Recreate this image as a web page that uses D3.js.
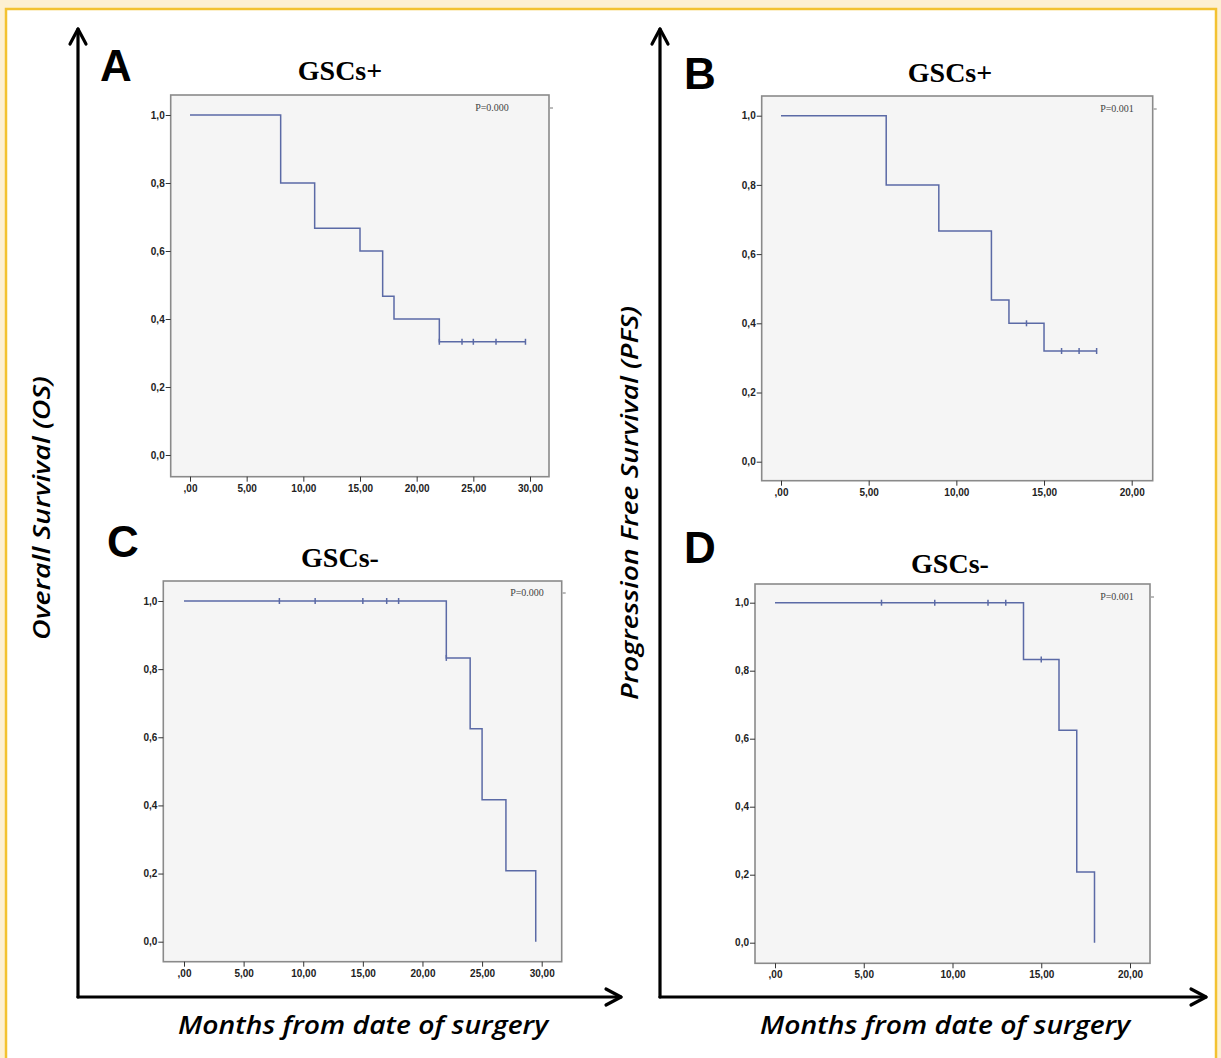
<!DOCTYPE html>
<html>
<head>
<meta charset="utf-8">
<script src="https://cdn.jsdelivr.net/npm/d3@7"></script>
<style>
  html, body { margin: 0; padding: 0; background: #fdf0d2; }
  svg { display: block; }
</style>
</head>
<body>
<svg id="chart" width="1221" height="1058"></svg>
<script>
// ---------------- DATA ----------------
// Panel A: Overall survival, GSCs+
const osPosTimes    = [0, 8, 11, 15, 17, 18, 22, 29.6];
const osPosSurv     = [1.0, 0.8, 0.667, 0.6, 0.467, 0.4, 0.333, 0.333];
const osPosCensT    = [22, 24, 25, 27, 29.6];
const osPosCensS    = [0.333, 0.333, 0.333, 0.333, 0.333];

// Panel B: Progression free survival, GSCs+
const pfsPosTimes   = [0, 6, 9, 12, 13, 15, 18];
const pfsPosSurv    = [1.0, 0.8, 0.667, 0.467, 0.4, 0.32, 0.32];
const pfsPosCensT   = [14, 16, 17, 18];
const pfsPosCensS   = [0.4, 0.32, 0.32, 0.32];

// Panel C: Overall survival, GSCs-
const osNegTimes    = [0, 22, 24, 25, 27, 29.5];
const osNegSurv     = [1.0, 0.833, 0.625, 0.417, 0.208, 0.0];
const osNegCensT    = [8, 11, 15, 17, 18, 22];
const osNegCensS    = [1.0, 1.0, 1.0, 1.0, 1.0, 0.833];

// Panel D: Progression free survival, GSCs-
const pfsNegTimes   = [0, 14, 16, 17, 18];
const pfsNegSurv    = [1.0, 0.833, 0.625, 0.208, 0.0];
const pfsNegCensT   = [6, 9, 12, 13, 15];
const pfsNegCensS   = [1.0, 1.0, 1.0, 1.0, 0.833];

// Tick labels
const yTickValues   = [0, 0.2, 0.4, 0.6, 0.8, 1.0];
const yTickLabels   = ["0,0", "0,2", "0,4", "0,6", "0,8", "1,0"];
const xTickValuesOS = [0, 5, 10, 15, 20, 25, 30];
const xTickLabelsOS = [",00", "5,00", "10,00", "15,00", "20,00", "25,00", "30,00"];
const xTickValuesPFS = [0, 5, 10, 15, 20];
const xTickLabelsPFS = [",00", "5,00", "10,00", "15,00", "20,00"];

const panelLetters  = ["A", "B", "C", "D"];
const panelTitles   = ["GSCs+", "GSCs+", "GSCs-", "GSCs-"];
const pValues       = ["P=0.000", "P=0.001", "P=0.000", "P=0.001"];
const yAxisTitles   = ["Overall Survival (OS)", "Progression Free Survival (PFS)"];
const xAxisTitle    = "Months from date of surgery";

// ---------------- LAYOUT ----------------
const svg = d3.select("#chart");
const lineColor = "#5b6aa6";

// outer frame
svg.append("rect").attr("x", 0).attr("y", 0).attr("width", 1221).attr("height", 1058).attr("fill", "#fdf0d2");
svg.append("rect").attr("x", 6).attr("y", 9).attr("width", 1210).attr("height", 1070)
  .attr("fill", "#ffffff").attr("stroke", "#f3c231").attr("stroke-width", 2.5);

const panels = [
  { times: osPosTimes, surv: osPosSurv, censT: osPosCensT, censS: osPosCensS,
    xMax: 30, xt: xTickValuesOS, xl: xTickLabelsOS,
    frame: [170.7, 95, 549, 476.7], xr: [190, 530], yr: [455, 115],
    letter: [100, 81], title: [340, 80], p: [492, 111] },
  { times: pfsPosTimes, surv: pfsPosSurv, censT: pfsPosCensT, censS: pfsPosCensS,
    xMax: 20, xt: xTickValuesPFS, xl: xTickLabelsPFS,
    frame: [761.7, 96, 1152.7, 480.7], xr: [781, 1131.7], yr: [461.7, 115.7],
    letter: [684, 89], title: [950, 82], p: [1117, 112] },
  { times: osNegTimes, surv: osNegSurv, censT: osNegCensT, censS: osNegCensS,
    xMax: 30, xt: xTickValuesOS, xl: xTickLabelsOS,
    frame: [163.3, 581, 561.7, 961.7], xr: [184, 541.7], yr: [941.7, 601],
    letter: [107, 557], title: [340, 567], p: [527, 596] },
  { times: pfsNegTimes, surv: pfsNegSurv, censT: pfsNegCensT, censS: pfsNegCensS,
    xMax: 20, xt: xTickValuesPFS, xl: xTickLabelsPFS,
    frame: [755, 584, 1150, 963.3], xr: [775, 1130], yr: [942.7, 602.7],
    letter: [684, 563], title: [950, 573], p: [1117, 600] }
];

panels.forEach((p, i) => {
  const g = svg.append("g");
  const [fx0, fy0, fx1, fy1] = p.frame;
  const x = d3.scaleLinear().domain([0, p.xMax]).range(p.xr);
  const y = d3.scaleLinear().domain([0, 1]).range(p.yr);

  // plot frame
  g.append("rect").attr("x", fx0).attr("y", fy0).attr("width", fx1 - fx0).attr("height", fy1 - fy0)
    .attr("fill", "#f5f5f5").attr("stroke", "#8a8a8a").attr("stroke-width", 1.6);

  // y axis
  const yAxis = d3.axisLeft(y).tickValues(yTickValues).tickSize(5).tickPadding(1)
    .tickFormat((d, k) => yTickLabels[k]);
  const ya = g.append("g").attr("transform", `translate(${fx0},0)`).call(yAxis);
  ya.select(".domain").remove();
  ya.selectAll("line").attr("stroke", "#333").attr("stroke-width", 1);
  ya.selectAll("text").attr("font-family", "Liberation Sans, Arial, sans-serif")
    .attr("font-size", 10).attr("font-weight", "bold").attr("fill", "#222");

  // x axis
  const xAxis = d3.axisBottom(x).tickValues(p.xt).tickSize(5).tickPadding(3)
    .tickFormat((d, k) => p.xl[k]);
  const xa = g.append("g").attr("transform", `translate(0,${fy1})`).call(xAxis);
  xa.select(".domain").remove();
  xa.selectAll("line").attr("stroke", "#333").attr("stroke-width", 1);
  xa.selectAll("text").attr("font-family", "Liberation Sans, Arial, sans-serif")
    .attr("font-size", 10).attr("font-weight", "bold").attr("fill", "#222");

  // survival step curve
  const pts = p.times.map((t, k) => [t, p.surv[k]]);
  const line = d3.line().x(d => x(d[0])).y(d => y(d[1])).curve(d3.curveStepAfter);
  g.append("path").attr("d", line(pts)).attr("fill", "none")
    .attr("stroke", lineColor).attr("stroke-width", 1.5);

  // censor marks
  g.selectAll(".cens").data(p.censT.map((t, k) => [t, p.censS[k]])).enter()
    .append("line")
    .attr("x1", d => x(d[0])).attr("x2", d => x(d[0]))
    .attr("y1", d => y(d[1]) - 3).attr("y2", d => y(d[1]) + 3)
    .attr("stroke", lineColor).attr("stroke-width", 1.5);

  // P value
  g.append("text").attr("x", p.p[0]).attr("y", p.p[1]).attr("text-anchor", "middle")
    .attr("font-family", "Liberation Serif, Times New Roman, serif").attr("font-size", 10)
    .attr("fill", "#444").text(pValues[i]);
  // small dash outside the right edge
  g.append("line").attr("x1", fx1 + 1).attr("x2", fx1 + 4).attr("y1", p.p[1] - 3).attr("y2", p.p[1] - 3)
    .attr("stroke", "#777").attr("stroke-width", 1);

  // panel letter
  svg.append("text").attr("x", p.letter[0]).attr("y", p.letter[1])
    .attr("font-family", "Liberation Sans, Arial, sans-serif").attr("font-weight", "bold")
    .attr("font-size", 44).attr("fill", "#000").text(panelLetters[i]);

  // title
  svg.append("text").attr("x", p.title[0]).attr("y", p.title[1]).attr("text-anchor", "middle")
    .attr("font-family", "Liberation Serif, Times New Roman, serif").attr("font-weight", "bold")
    .attr("font-size", 28).attr("fill", "#000").text(panelTitles[i]);
});

// ---------------- BIG AXES ----------------
function bigAxes(x0, yTop, yBot, xRight) {
  const g = svg.append("g").attr("stroke", "#000").attr("stroke-width", 3.2)
    .attr("fill", "none").attr("stroke-linecap", "round").attr("stroke-linejoin", "round");
  g.append("path").attr("d", `M${x0},${yBot} L${x0},${yTop}`);
  g.append("path").attr("d", `M${x0 - 8},${yTop + 15} L${x0},${yTop} L${x0 + 8},${yTop + 15}`);
  g.append("path").attr("d", `M${x0},${yBot} L${xRight},${yBot}`);
  g.append("path").attr("d", `M${xRight - 15},${yBot - 8} L${xRight},${yBot} L${xRight - 15},${yBot + 8}`);
}
bigAxes(78, 29, 997, 621);
bigAxes(660, 29, 997, 1206);

// axis titles
function yTitle(cx, cy, len, txt) {
  svg.append("text").attr("transform", `translate(${cx},${cy}) rotate(-90)`)
    .attr("text-anchor", "middle").attr("dy", "0.35em")
    .attr("font-family", "Open Sans, Lato, sans-serif").attr("font-style", "italic")
    .attr("font-weight", 600).attr("font-size", 24).attr("fill", "#000")
    .attr("textLength", len).attr("lengthAdjust", "spacingAndGlyphs").text(txt);
}
yTitle(42, 508, 264, yAxisTitles[0]);
yTitle(630, 503, 394, yAxisTitles[1]);

function xTitle(cx, by, len) {
  svg.append("text").attr("x", cx).attr("y", by).attr("text-anchor", "middle")
    .attr("font-family", "Open Sans, Lato, sans-serif").attr("font-style", "italic")
    .attr("font-weight", 600).attr("font-size", 26).attr("fill", "#000")
    .attr("textLength", len).attr("lengthAdjust", "spacingAndGlyphs").text(xAxisTitle);
}
xTitle(363, 1034, 370);
xTitle(945, 1034, 370);
</script>
</body>
</html>
